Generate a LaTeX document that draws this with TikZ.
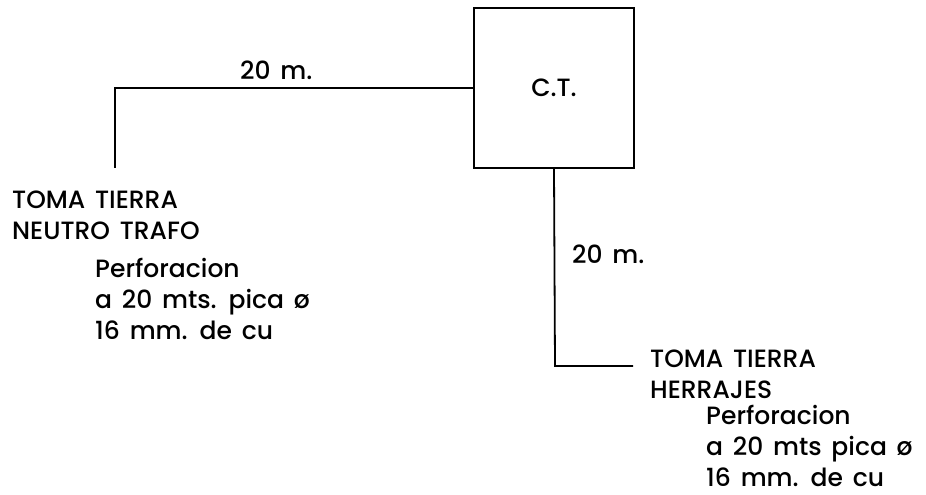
\documentclass[tikz,border=0pt]{standalone}
\usepackage{fontspec}
\setmainfont{Poppins Medium}[WordSpace=1.5]
\usepackage{tikz}
\usetikzlibrary{positioning}

\begin{document}
\begin{tikzpicture}[
    x=1pt,
    y=-1pt,
    ctbox/.style={
        draw,
        line width=1.8pt,
        minimum size=160pt,
        inner sep=0pt,
        font=\fontsize{25}{31}\selectfont
    },
    label/.style={
        anchor=base west,
        align=left,
        inner sep=0pt,
        font=\fontsize{25}{31}\selectfont
    },
    wire/.style={
        line width=1.8pt
    }
]
\useasboundingbox (0,0) rectangle (926,495);
%
\node[ctbox] (ct) at (554,88) {C.T.};
%
\coordinate (neutroTop) at (115,88);
\coordinate (neutroEnd) at (115,168);
\coordinate (herrCorner) at (555,366);
\coordinate (herrEnd) at (633,366);
%
\node[label] (lenNeutro) at (240,80) {20 m.};
\node[label] (lenHerr) at (572,263) {20 m.};
%
% base of a multi-line node is its last line
\node[label] (neutro) at (12,239) {
    TOMA TIERRA\\
    NEUTRO TRAFO
};
\node[label] (neutroPerf) at (95,339) {
    Perforacion\\
    a 20 mts. pica ø\\
    16 mm. de cu
};
%
\node[label] (herr) at (650,398) {
    TOMA TIERRA\\
    HERRAJES
};
\node[label] (herrPerf) at (706,486) {
    Perforacion\\
    a 20 mts pica ø\\
    16 mm. de cu
};
%
\draw[wire]
    (ct.west)
    --
    (neutroTop)
    --
    (neutroEnd);
%
\draw[wire]
    (ct.south)
    --
    (herrCorner)
    --
    (herrEnd);
%
\end{tikzpicture}
\end{document}
